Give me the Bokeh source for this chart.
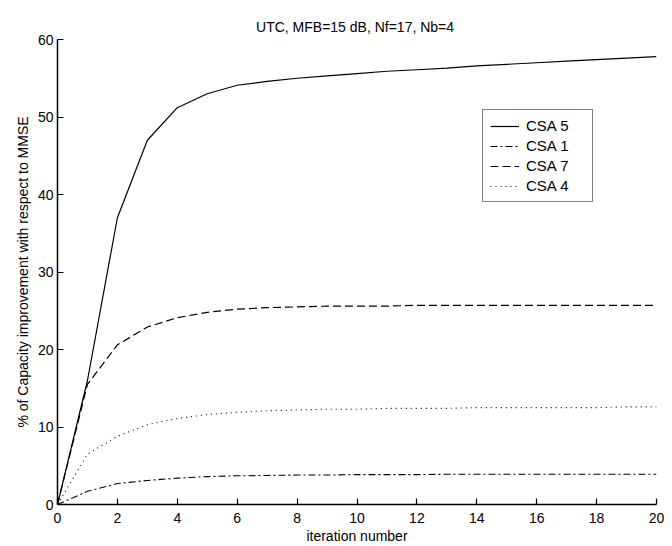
from bokeh.plotting import figure
from bokeh.models import Range1d, FixedTicker, Legend, LegendItem
from bokeh.embed import file_html
from bokeh.resources import INLINE

iterations = list(range(0, 21))
csa5 = [0, 16, 37, 47, 51.2, 53.0, 54.1, 54.6, 55.0, 55.3, 55.6, 55.9, 56.1, 56.3,
        56.6, 56.8, 57.0, 57.2, 57.4, 57.6, 57.8]
csa1 = [0, 1.7, 2.7, 3.1, 3.4, 3.6, 3.7, 3.75, 3.8, 3.8, 3.85, 3.85, 3.85, 3.9,
        3.9, 3.9, 3.9, 3.9, 3.9, 3.9, 3.9]
csa7 = [0, 15.5, 20.6, 22.9, 24.1, 24.8, 25.2, 25.4, 25.5, 25.6, 25.6, 25.6, 25.7,
        25.7, 25.7, 25.7, 25.7, 25.7, 25.7, 25.7, 25.7]
csa4 = [0, 6.5, 8.8, 10.3, 11.1, 11.6, 11.9, 12.1, 12.2, 12.3, 12.3, 12.4, 12.4,
        12.4, 12.5, 12.5, 12.5, 12.5, 12.5, 12.6, 12.6]
series_names = ["CSA 5", "CSA 1", "CSA 7", "CSA 4"]
x_ticks = list(range(0, 21, 2))
y_ticks = [0, 10, 20, 30, 40, 50, 60]

FONT = "Liberation Sans"

p = figure(width=668, height=546, output_backend="svg", toolbar_location=None,
           x_range=Range1d(0, 20), y_range=Range1d(0, 60),
           title="UTC,  MFB=15 dB, Nf=17, Nb=4",
           min_border_left=57, min_border_right=12, min_border_top=39, min_border_bottom=41)

p.title.align = "center"
p.title.text_font = FONT
p.title.text_font_size = "14px"
p.title.text_font_style = "normal"
p.title.text_color = "black"

p.outline_line_color = None
p.background_fill_color = "white"
p.border_fill_color = "white"
p.xgrid.visible = False
p.ygrid.visible = False

for ax in (p.xaxis[0], p.yaxis[0]):
    ax.axis_line_color = "black"
    ax.axis_line_width = 1.5
    ax.major_tick_line_color = "black"
    ax.major_tick_line_width = 1.2
    ax.major_tick_in = 6
    ax.major_tick_out = 0
    ax.minor_tick_line_color = None
    ax.major_label_text_font = FONT
    ax.major_label_text_font_size = "14px"
    ax.major_label_text_color = "black"
    ax.axis_label_text_font = FONT
    ax.axis_label_text_font_size = "14px"
    ax.axis_label_text_font_style = "normal"
    ax.axis_label_text_color = "black"

p.xaxis.ticker = FixedTicker(ticks=x_ticks)
p.yaxis.ticker = FixedTicker(ticks=y_ticks)
p.xaxis.axis_label = "iteration number"
p.yaxis.axis_label = "% of Capacity improvement with respect to MMSE"
p.xaxis.major_label_standoff = 8
p.xaxis.axis_label_standoff = 2
p.yaxis.major_label_standoff = 4
p.yaxis.axis_label_standoff = 4

r5 = p.line(iterations, csa5, line_color="black", line_width=1.2)
r1 = p.line(iterations, csa1, line_color="black", line_width=1.1, line_dash="7 3 2 3")
r7 = p.line(iterations, csa7, line_color="black", line_width=1.2, line_dash="8 4")
r4 = p.line(iterations, csa4, line_color="black", line_width=1.1, line_dash="1 4")

legend = Legend(items=[LegendItem(label=n, renderers=[r]) for n, r in
                       zip(series_names, [r5, r1, r7, r4])],
                location=(425, 302))
legend.border_line_color = "black"
legend.border_line_width = 1
legend.background_fill_color = "white"
legend.background_fill_alpha = 1
legend.label_text_font = FONT
legend.label_text_font_size = "15px"
legend.label_text_color = "black"
legend.glyph_width = 29
legend.glyph_height = 16
legend.label_height = 16
legend.label_width = 59
legend.label_standoff = 7
legend.spacing = 3
legend.padding = 7
legend.margin = 0
p.add_layout(legend, "center")

open("out.html", "w").write(file_html(p, INLINE))
